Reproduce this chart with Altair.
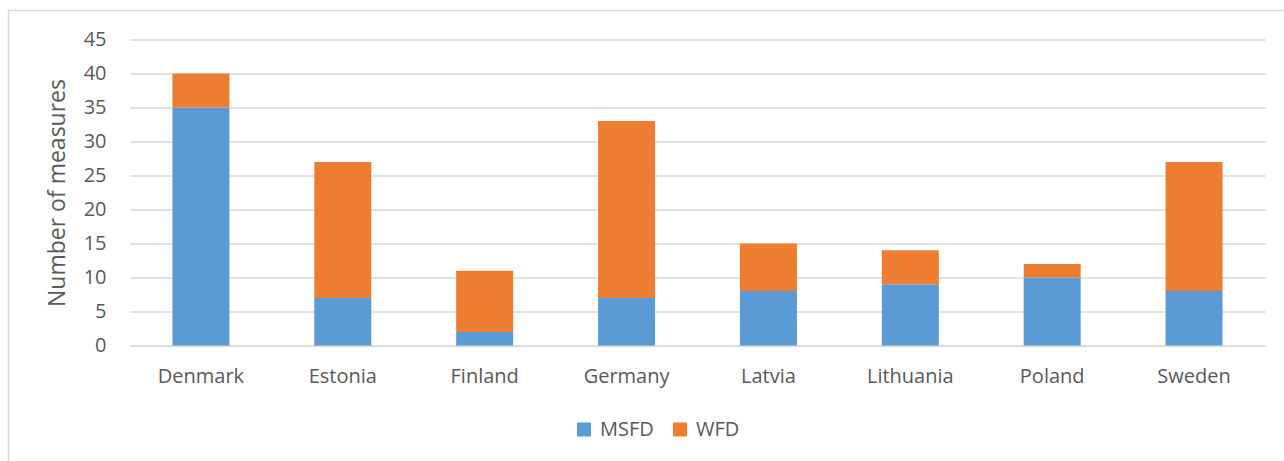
import altair as alt
import pandas as pd

countries = ["Denmark", "Estonia", "Finland", "Germany", "Latvia", "Lithuania", "Poland", "Sweden"]
msfd = [35, 7, 2, 7, 8, 9, 10, 8]
wfd = [5, 20, 9, 26, 7, 5, 2, 19]
series = ["MSFD", "WFD"]
colors = ["#5B9BD5", "#ED7D31"]
y_ticks = [0, 5, 10, 15, 20, 25, 30, 35, 40, 45]

rows = []
for c, m, w in zip(countries, msfd, wfd):
    rows.append({"country": c, "directive": "MSFD", "measures": m, "order": 0})
    rows.append({"country": c, "directive": "WFD", "measures": w, "order": 1})
df = pd.DataFrame(rows)

FONT = "Open Sans"
TEXT = "#595959"
GRID = "#d9d9d9"
W, H = 1135, 306

bars = alt.Chart(df).mark_bar(size=57).encode(
    x=alt.X("country:N", sort=countries, title=None,
            scale=alt.Scale(paddingInner=0.6, paddingOuter=0.3),
            axis=alt.Axis(labelAngle=0, labelPadding=21, ticks=False,
                          domainColor=GRID, domainWidth=1.3)),
    y=alt.Y("measures:Q", stack="zero", title="Number of measures",
            scale=alt.Scale(domain=[0, 45], nice=False),
            axis=alt.Axis(values=y_ticks, ticks=False, domain=False,
                          gridColor=GRID, gridWidth=1.3, labelPadding=24,
                          titlePadding=14)),
    color=alt.Color("directive:N",
                    scale=alt.Scale(domain=series, range=colors),
                    legend=alt.Legend(title=None, orient="none", direction="horizontal",
                                      legendX=444, legendY=380, symbolType="square",
                                      symbolSize=196, symbolStrokeWidth=0,
                                      columnPadding=16, labelOffset=6)),
    order=alt.Order("order:Q"),
)

frame = alt.Chart(pd.DataFrame({"k": [0]})).mark_rect(
    fill=None, stroke=GRID, strokeWidth=1.5
).encode(
    x=alt.value(-121.5), x2=alt.value(W + 30),
    y=alt.value(-29), y2=alt.value(H + 140),
)

chart = alt.layer(frame, bars).properties(
    width=W, height=H,
    autosize=alt.AutoSizeParams(type="none"),
    padding={"left": 130, "top": 39.5, "right": 19, "bottom": 115.5},
).configure_view(stroke=None).configure_axis(
    labelFont=FONT, labelFontSize=20, labelColor=TEXT,
    titleFont=FONT, titleFontSize=23, titleColor=TEXT, titleFontWeight="normal",
).configure_legend(
    labelFont=FONT, labelFontSize=20, labelColor=TEXT,
)

chart.save("out.html", embed_options={"renderer": "svg", "actions": False})
